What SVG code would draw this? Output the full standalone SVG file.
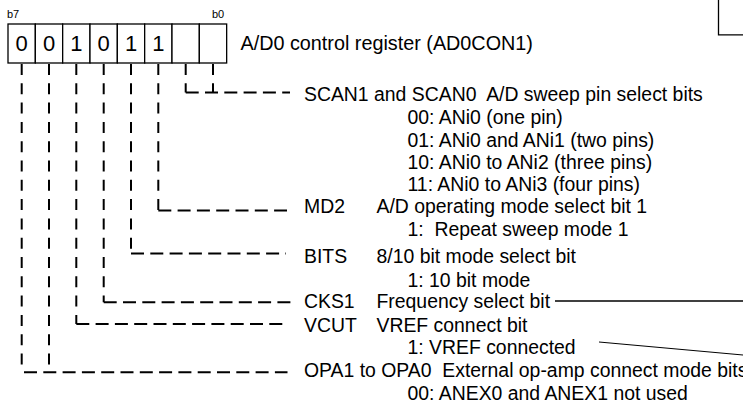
<svg xmlns="http://www.w3.org/2000/svg" width="743" height="406" viewBox="0 0 743 406">
<style>
text{font-family:"Liberation Sans",Arial,sans-serif;fill:#000;white-space:pre}
.t{font-size:19.4px}
.d{font-size:22px;text-anchor:middle}
.b{font-size:11px}
.box{fill:#fff;stroke:#000;stroke-width:1.3}
.v{fill:none;stroke:#000;stroke-width:2;stroke-dasharray:11 8.3}
.h{fill:none;stroke:#000;stroke-width:2;stroke-dasharray:13 6.3}
.s{fill:none;stroke:#000}
</style>
<rect width="743" height="406" fill="#fff"/>
<g id="register">
<text class="b" x="7" y="18">b7</text>
<text class="b" x="212" y="18">b0</text>
<rect class="box" x="8" y="24" width="27.33" height="39"/>
<rect class="box" x="35.33" y="24" width="27.33" height="39"/>
<rect class="box" x="62.67" y="24" width="27.33" height="39"/>
<rect class="box" x="90" y="24" width="27.33" height="39"/>
<rect class="box" x="117.33" y="24" width="27.33" height="39"/>
<rect class="box" x="144.67" y="24" width="27.33" height="39"/>
<rect class="box" x="172" y="24" width="27.33" height="39"/>
<rect class="box" x="199.33" y="24" width="27.33" height="39"/>
<text class="d" x="21.7" y="50.5">0</text>
<text class="d" x="49" y="50.5">0</text>
<text class="d" x="76.3" y="50.5">1</text>
<text class="d" x="103.7" y="50.5">0</text>
<text class="d" x="131" y="50.5">1</text>
<text class="d" x="158.3" y="50.5">1</text>
<text class="t" x="240.5" y="49.5" style="font-size:19.8px">A/D0 control register (AD0CON1)</text>
</g>
<g id="connectors">
<path class="v" d="M213 64V92.5"/>
<path class="v" d="M185.7 64V92.5"/>
<path class="h" d="M185.7 92.5H290"/>
<path class="v" d="M158.3 64V210.5"/>
<path class="h" d="M158.3 210.5H287"/>
<path class="v" d="M131 64V253.5"/>
<path class="h" d="M131 253.5H286"/>
<path class="v" d="M103.7 64V302.3"/>
<path class="h" d="M103.7 302.3H295"/>
<path class="v" d="M76.3 64V324"/>
<path class="h" d="M76.3 324H288"/>
<path class="v" d="M49 64V367"/>
<path class="v" d="M21.7 64V367"/>
<path class="h" d="M24 372.3H287.5"/>
<path class="s" stroke-width="1.3" d="M555 301H743"/>
<path class="s" stroke-width="1" d="M599 342L743 355"/>
<path class="s" stroke-width="1.3" d="M718.5 0V34.8H743"/>
</g>
<g id="scan">
<text class="t" x="304" y="101">SCAN1 and SCAN0  A/D sweep pin select bits</text>
<text class="t" x="407.5" y="124.3">00: ANi0 (one pin)</text>
<text class="t" x="407.5" y="146.7">01: ANi0 and ANi1 (two pins)</text>
<text class="t" x="407.5" y="169">10: ANi0 to ANi2 (three pins)</text>
<text class="t" x="407.5" y="191">11: ANi0 to ANi3 (four pins)</text>
</g>
<g id="md2">
<text class="t" x="304" y="213">MD2</text>
<text class="t" x="376.5" y="213">A/D operating mode select bit 1</text>
<text class="t" x="407.5" y="236">1:  Repeat sweep mode 1</text>
</g>
<g id="bits">
<text class="t" x="304" y="263">BITS</text>
<text class="t" x="376.5" y="263">8/10 bit mode select bit</text>
<text class="t" x="407.5" y="286.7">1: 10 bit mode</text>
</g>
<g id="cks1">
<text class="t" x="304" y="308.3">CKS1</text>
<text class="t" x="376.5" y="308.3">Frequency select bit</text>
</g>
<g id="vcut">
<text class="t" x="304" y="331.7">VCUT</text>
<text class="t" x="376.5" y="331.7">VREF connect bit</text>
<text class="t" x="407.5" y="354">1: VREF connected</text>
</g>
<g id="opa">
<text class="t" x="304" y="376.5">OPA1 to OPA0  External op-amp connect mode bits</text>
<text class="t" x="407.5" y="400">00: ANEX0 and ANEX1 not used</text>
</g>
</svg>
